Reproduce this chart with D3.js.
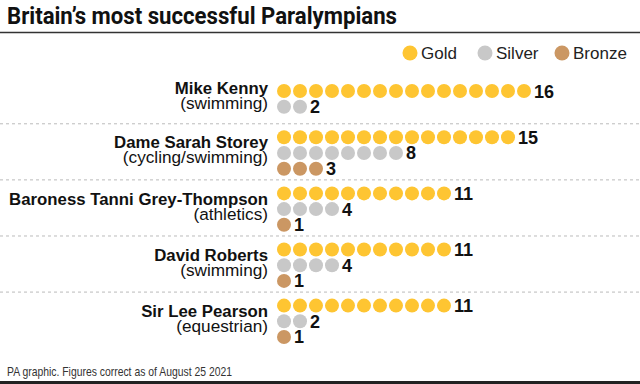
<!DOCTYPE html>
<html><head><meta charset="utf-8">
<script src="https://cdn.jsdelivr.net/npm/d3@7"></script>
<style>
html,body{margin:0;padding:0;background:#fff;}
svg{display:block;font-family:"Liberation Sans",Arial,sans-serif;}
</style></head>
<body>
<svg id="chart" width="640" height="384"></svg>
<script>
const athletes = ["Mike Kenny","Dame Sarah Storey","Baroness Tanni Grey-Thompson","David Roberts","Sir Lee Pearson"];
const sports = ["(swimming)","(cycling/swimming)","(athletics)","(swimming)","(equestrian)"];
const gold = [16,15,11,11,11];
const silver = [2,8,4,4,2];
const bronze = [0,3,1,1,1];
const medalNames = ["Gold","Silver","Bronze"];
const medalColors = ["#FEC532","#C8C8C8","#CB9763"];
const title = "Britain\u2019s most successful Paralympians";
const footer = "PA graphic. Figures correct as of August 25 2021";

const svg = d3.select("#chart");
const W = 640;

// title
svg.append("text").attr("x",7).attr("y",24).attr("font-size",24).attr("font-weight","bold")
  .attr("font-family","Roboto, 'Liberation Sans', sans-serif")
  .attr("textLength",390).attr("lengthAdjust","spacingAndGlyphs")
  .attr("fill","#111").text(title);
svg.append("line").attr("x1",0).attr("x2",W).attr("y1",32.5).attr("y2",32.5)
  .attr("stroke","#333").attr("stroke-width",1.5);

// legend
const legendX = [410,485,562];
medalNames.forEach((m,i)=>{
  svg.append("circle").attr("cx",legendX[i]).attr("cy",53).attr("r",7.5).attr("fill",medalColors[i]);
  svg.append("text").attr("x",legendX[i]+11).attr("y",59).attr("font-size",17).attr("fill","#222").text(m);
});

// layout
const data = athletes.map((a,i)=>({name:a, sport:sports[i], counts:[gold[i],silver[i],bronze[i]]}));
const rowStep = 15.7;
let yCur = 91;
data.forEach(d=>{
  d.rows = d.counts.filter(c=>c>0).length;
  d.y0 = yCur;
  d.mid = d.y0 + (d.rows-1)*rowStep/2;
  yCur += rowStep*Math.max(d.rows,2.375)+9;
});

const x = d3.scaleLinear().domain([0,1]).range([284,300]);

// separators
data.forEach((d,i)=>{
  if(i===0) return;
  svg.append("line").attr("x1",0).attr("x2",W).attr("y1",d.y0-13.5).attr("y2",d.y0-13.5)
    .attr("stroke","#bbb").attr("stroke-width",1).attr("stroke-dasharray","3,3");
});

const g = svg.selectAll("g.athlete").data(data).join("g").attr("class","athlete");
const lbl = g.append("text").attr("text-anchor","end").attr("fill","#111");
lbl.append("tspan").attr("x",268).attr("y",d=>d.mid-4.5)
  .attr("font-size",16.8).attr("font-weight","bold").text(d=>d.name);
lbl.append("tspan").attr("x",268).attr("y",d=>d.mid+10.5)
  .attr("font-size",17.2).text(d=>d.sport);

g.each(function(d){
  const gg = d3.select(this);
  let r = 0;
  d.counts.forEach((c,mi)=>{
    if(c===0) return;
    const cy = d.y0 + r*rowStep;
    gg.selectAll(null).data(d3.range(c)).join("circle")
      .attr("cx",k=>x(k)).attr("cy",cy).attr("r",7).attr("fill",medalColors[mi]);
    gg.append("text").attr("x",x(c-1)+10).attr("y",cy+6.5).attr("font-size",18)
      .attr("font-weight","bold").attr("fill","#111").text(c);
    r++;
  });
});

// footer
svg.append("text").attr("x",7).attr("y",376).attr("font-size",13).attr("fill","#333")
  .attr("textLength",225).attr("lengthAdjust","spacingAndGlyphs").text(footer);
svg.append("rect").attr("x",0).attr("y",381).attr("width",W).attr("height",3).attr("fill","#222");
</script>
</body></html>
